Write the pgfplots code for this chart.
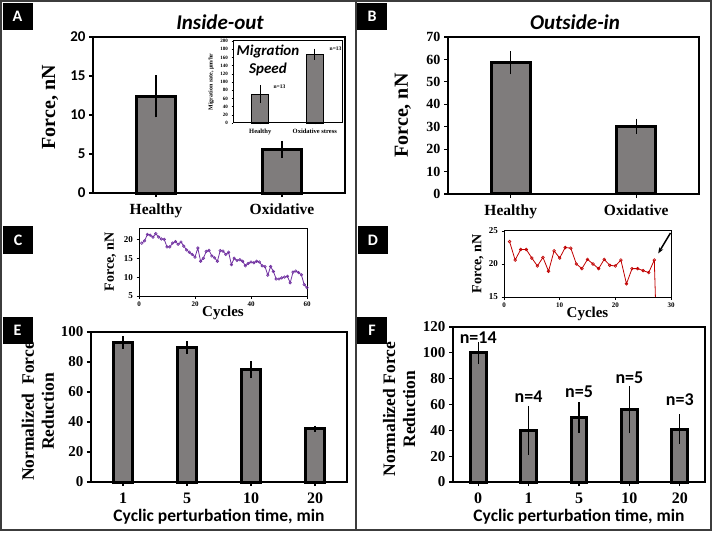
\documentclass[border=0pt]{standalone}
\usepackage{pgfplots}
\pgfplotsset{compat=1.18}
\usepackage{fontspec}
\setmainfont{Liberation Serif}
\newfontfamily\sfc{Carlito}
\usetikzlibrary{arrows.meta}

\definecolor{barfill}{RGB}{127,124,124}
\definecolor{cpurple}{RGB}{112,48,160}
\definecolor{dred}{RGB}{192,0,0}
\definecolor{framegray}{RGB}{60,60,60}
\newcommand{\fs}[1]{\fontsize{#1}{#1}\selectfont}

\pgfplotsset{
  barax/.style={
    scale only axis, anchor=south west,
    axis line style={line width=2.4pt},
    tick align=outside, tick pos=left, major tick length=4pt,
    tick style={black, line width=1.2pt},
    xtick=data,
    /pgf/number format/assume math mode=true,
    ybar, bar width=0.31, ymin=0, clip=false,
  },
  lineax/.style={
    scale only axis, anchor=south west,
    axis line style={line width=1pt},
    tick align=outside, tick pos=left, major tick length=2.5pt,
    tick style={black, line width=0.7pt},
    /pgf/number format/assume math mode=true,
    xticklabel style={font=\bfseries\fs{7}},
    yticklabel style={font=\bfseries\fs{9}},
    xlabel={Cycles}, xlabel style={font=\bfseries\fs{15}, at={(axis description cs:0.5,-0.25)}, anchor=center},
    ylabel={Force, nN}, ylabel style={font=\bfseries\fs{14}, anchor=center},
    clip=false,
  },
}

\begin{document}
\begin{tikzpicture}[x=1pt,y=1pt]
\useasboundingbox (0,0) rectangle (712,539);
\draw[framegray, line width=2.4pt] (1.2,9) rectangle (710.8,537.8);
\draw[framegray, line width=2.4pt] (356,9) -- (356,537.8);

% A
\begin{axis}[barax, at={(93pt,346pt)}, width=252pt, height=156pt,
  xmin=-0.5, xmax=1.5, ymax=20, ytick={0,5,...,20},
  xticklabels={Healthy,Oxidative},
  xticklabel style={font=\bfseries\fs{15.5}, yshift=-3pt},
  yticklabel style={font=\sfc\bfseries\fs{15}},
  ylabel={Force, nN},
  ylabel style={font=\bfseries\fs{20}, at={(axis description cs:-0.17,0.55)}, anchor=center}]
\addplot[fill=barfill, draw=black, line width=3pt,
  error bars/.cd, y dir=both, y explicit,
  error bar style={line width=1.4pt, black},
  error mark options={line width=1.4pt, mark size=2.5pt, black}]
  coordinates {(0,12.4) +- (0,2.4) (1,5.6) +- (0,0.75)};
\end{axis}
\node[font=\sfc\bfseries\itshape\fs{21}] at (220,517) {Inside-out};

% inset
\begin{axis}[barax, at={(233pt,416pt)}, width=109pt, height=82pt,
  axis line style={line width=1pt}, major tick length=1.5pt, tick style={line width=0.4pt},
  xmin=-0.5, xmax=1.5, ymax=200, ytick={0,20,...,200},
  xticklabels={Healthy,Oxidative stress},
  xticklabel style={font=\bfseries\fs{6.5}, yshift=-1pt},
  yticklabel style={font=\bfseries\fs{5}},
  ylabel={Migration rate, µm/hr},
  ylabel style={font=\bfseries\fs{6}, at={(axis description cs:-0.2,0.5)}, anchor=center}]
\addplot[fill=barfill, draw=black, line width=1.2pt,
  error bars/.cd, y dir=both, y explicit,
  error bar style={line width=0.8pt, black},
  error mark options={line width=0.8pt, mark size=1.5pt, black}]
  coordinates {(0,70) +- (0,18) (1,168) +- (0,10)};
\node[font=\bfseries\fs{5.5}, anchor=west] at (axis cs:0.18,88) {n=13};
\node[font=\bfseries\fs{5.5}, anchor=west] at (axis cs:1.21,180) {n=13};
\end{axis}
\node[font=\sfc\bfseries\itshape\fontsize{15}{18}\selectfont, align=center] at (268,479) {Migration\\Speed};

% B
\begin{axis}[barax, at={(448pt,345pt)}, width=251pt, height=157pt,
  xmin=-0.5, xmax=1.5, ymax=70, ytick={0,10,...,70},
  xticklabels={Healthy,Oxidative},
  xticklabel style={font=\bfseries\fs{15.5}, yshift=-3pt},
  yticklabel style={font=\bfseries\fs{14}},
  ylabel={Force, nN},
  ylabel style={font=\bfseries\fs{20}, at={(axis description cs:-0.18,0.5)}, anchor=center}]
\addplot[fill=barfill, draw=black, line width=3pt,
  error bars/.cd, y dir=both, y explicit,
  error bar style={line width=1.4pt, black},
  error mark options={line width=1.4pt, mark size=2.5pt, black}]
  coordinates {(0,58.5) +- (0,4) (1,30.2) +- (0,2.3)};
\end{axis}
\node[font=\sfc\bfseries\itshape\fs{21}] at (575,517) {Outside-in};

% C
\begin{axis}[lineax, at={(139pt,243pt)}, width=168pt, height=68pt,
  xmin=0, xmax=60, ymin=5, ymax=23, xtick={0,20,40,60}, ytick={5,10,15,20},
  ylabel style={at={(axis description cs:-0.17,0.5)}}]
\addplot[cpurple, line width=0.8pt, mark=o, mark size=1.3pt, mark options={fill=white, line width=0.6pt}] coordinates {
(1,19.0) (2,19.6) (3,21.3) (4,21.1) (5,20.6) (6,21.5) (7,20.6) (8,20.1) (9,20.0) (10,18.0)
(11,18.0) (12,19.0) (13,19.4) (14,18.7) (15,19.3) (16,18.2) (17,17.2) (18,16.6) (19,16.0) (20,15.3)
(21,17.7) (22,14.2) (23,15.0) (24,16.8) (25,17.1) (26,15.6) (27,15.1) (28,14.2) (29,17.0) (30,16.9)
(31,16.0) (32,16.6) (33,13.3) (34,15.0) (35,14.4) (36,14.6) (37,14.2) (38,13.0) (39,13.6) (40,14.0)
(41,13.8) (42,14.2) (43,14.0) (44,13.0) (45,12.8) (46,10.5) (47,12.8) (48,11.5) (49,9.5) (50,9.5)
(51,9.8) (52,10.0) (53,10.2) (54,8.5) (55,11.3) (56,11.6) (57,11.2) (58,10.6) (59,8.0) (60,7.2)};
\end{axis}

% D
\begin{axis}[lineax, at={(504pt,242pt)}, width=167pt, height=66pt,
  xmin=0, xmax=30, ymin=15, ymax=25, xtick={0,10,20,30}, ytick={15,20,25},
  ylabel style={at={(axis description cs:-0.156,0.5)}}]
\addplot[dred, line width=0.8pt, mark=o, mark size=1.4pt, mark options={fill=white, line width=0.6pt}] coordinates {
(1,23.4) (2,20.6) (3,22.2) (4,22.2) (5,20.9) (6,19.7) (7,21.0) (8,18.9) (9,22.0) (10,20.9)
(11,22.5) (12,22.4) (13,20.0) (14,19.3) (15,20.7) (16,20.0) (17,19.3) (18,20.7) (19,19.8) (20,19.7)
(21,20.6) (22,17.0) (23,19.3) (24,19.3) (25,19.0) (26,18.7) (27,20.6)};
\addplot[dred, line width=0.8pt, forget plot] coordinates {(27,20.6) (27.2,15)};
\draw[-{Stealth[length=6pt]}, line width=1.5pt] (axis cs:29.9,24.7) -- (axis cs:27.7,21.6);
\end{axis}

% E
\begin{axis}[barax, at={(91pt,57pt)}, width=256pt, height=150pt,
  xmin=-0.5, xmax=3.5, ymax=100, ytick={0,20,...,100},
  xticklabels={1,5,10,20},
  xticklabel style={font=\bfseries\fs{16}, yshift=-3pt},
  yticklabel style={font=\bfseries\fs{15}},
  xlabel={Cyclic perturbation time, min},
  xlabel style={font=\sfc\bfseries\fs{17.5}, at={(axis description cs:0.5,-0.233)}, anchor=center},
  ylabel={Normalized~~Force\\Reduction},
  ylabel style={font=\bfseries\fontsize{17.5}{20}\selectfont, align=center, at={(axis description cs:-0.207,0.47)}, anchor=center}]
\addplot[fill=barfill, draw=black, line width=3pt,
  error bars/.cd, y dir=both, y explicit,
  error bar style={line width=1.2pt, black},
  error mark options={line width=1.2pt, mark size=2.5pt, black}]
  coordinates {(0,93) +- (0,2.5) (1,89.8) +- (0,2.5) (2,75) +- (0,4) (3,35.5) +- (0,0.4)};
\end{axis}

% F
\begin{axis}[barax, at={(453pt,57pt)}, width=252pt, height=155pt,
  xmin=-0.5, xmax=4.5, ymax=120, ytick={0,20,...,120},
  xticklabels={0,1,5,10,20},
  xticklabel style={font=\bfseries\fs{16}, yshift=-3pt},
  yticklabel style={font=\bfseries\fs{15}},
  xlabel={Cyclic perturbation time, min},
  xlabel style={font=\sfc\bfseries\fs{17.5}, at={(axis description cs:0.5,-0.226)}, anchor=center},
  ylabel={Normalized Force\\Reduction},
  ylabel style={font=\bfseries\fontsize{17.5}{20}\selectfont, align=center, at={(axis description cs:-0.214,0.47)}, anchor=center}]
\addplot[fill=barfill, draw=black, line width=3pt,
  error bars/.cd, y dir=both, y explicit,
  error bar style={line width=1.2pt, black},
  error mark options={line width=1.2pt, mark size=2.5pt, black}]
  coordinates {(0,100) +- (0,6.5) (1,40) +- (0,17) (2,50) +- (0,10) (3,56) +- (0,16.5) (4,41) +- (0,9.5)};
\node[font=\sfc\bfseries\fs{18}] at (axis cs:0,112) {n=14};
\node[font=\sfc\bfseries\fs{18}] at (axis cs:1,66) {n=4};
\node[font=\sfc\bfseries\fs{18}] at (axis cs:2,70) {n=5};
\node[font=\sfc\bfseries\fs{18}] at (axis cs:3,81) {n=5};
\node[font=\sfc\bfseries\fs{18}] at (axis cs:4,64) {n=3};
\end{axis}

% panel letters
\foreach \px/\py/\l in {17.5/522.5/A, 372/522.5/B, 18/299/C, 373/299/D, 17.5/208.5/E, 372/208.5/F}
  \node[fill=black, text=white, font=\sfc\bfseries\fs{16}, minimum width=30pt, minimum height=27pt, inner sep=0pt] at (\px,\py) {\l};
\end{tikzpicture}
\end{document}
